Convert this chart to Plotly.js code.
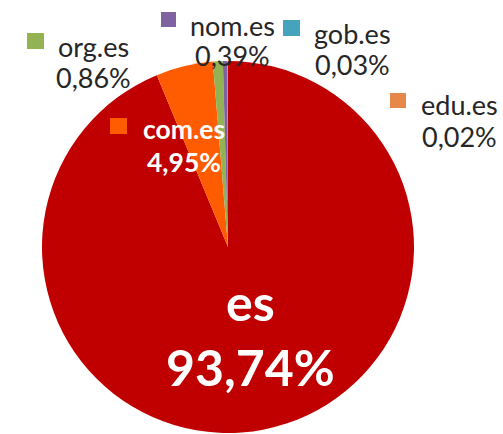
<!DOCTYPE html>
<html>
<head>
<meta charset="utf-8">
<script src="https://cdn.plot.ly/plotly-3.0.1.min.js"></script>
<style>
html,body{margin:0;padding:0;background:#fff;overflow:hidden;}
#chart{width:503px;height:434px;}
</style>
</head>
<body>
<div id="chart"></div>
<script>
// Data
const categories = ["es", "com.es", "org.es", "nom.es", "gob.es", "edu.es"];
const values = [93.74, 4.95, 0.86, 0.39, 0.03, 0.02];
const valueLabels = ["93,74%", "4,95%", "0,86%", "0,39%", "0,03%", "0,02%"];
const colors = ["#C00000", "#FF5B00", "#93B254", "#7F62A0", "#45A3BD", "#E5884A"];

// Layout geometry (pixels)
const W = 503, H = 434;
const M = {l: 42, r: 89, t: 61, b: 1};
const PW = W - M.l - M.r, PH = H - M.t - M.b;
const px = x => (x - M.l) / PW;
const py = y => 1 - (y - M.t) / PH;

// label placement: [index, centerX, line1Y, line2Y, square [x0,y0,x1,y1], textColor, bold, size]
const labelPos = [
  [0, 251, 301.5, 366.5, null, "#FFFFFF", true, 50],
  [1, 184, 129, 161.5, [110, 118, 127, 134], "#FFFFFF", true, 26.5],
  [2, 93.5, 46, 78, [27, 33, 44, 49], "#262626", false, 27],
  [3, 232, 25, 55, [161, 12, 176, 27], "#262626", false, 27],
  [4, 352.5, 33, 64, [283, 20, 300, 36], "#262626", false, 27],
  [5, 459.5, 104, 136, [390, 93, 406, 108], "#262626", false, 27]
];

const annotations = [];
const shapes = [];
labelPos.forEach(p => {
  const i = p[0];
  const lines = [categories[i], valueLabels[i]];
  [p[2], p[3]].forEach((yy, k) => {
    annotations.push({
      xref: "paper", yref: "paper", x: px(p[1]), y: py(yy),
      xanchor: "center", yanchor: "middle", align: "center",
      showarrow: false, text: p[6] ? "<b>" + lines[k] + "</b>" : lines[k],
      font: {family: "Lato, 'Liberation Sans', sans-serif", size: p[7], color: p[5]}
    });
  });
  if (p[4]) {
    shapes.push({
      type: "rect", xref: "paper", yref: "paper",
      x0: px(p[4][0]), x1: px(p[4][2]), y0: py(p[4][1]), y1: py(p[4][3]),
      fillcolor: colors[i], line: {width: 0}
    });
  }
});

const trace = {
  type: "pie",
  labels: categories,
  values: values,
  sort: false,
  direction: "clockwise",
  rotation: 0,
  textinfo: "none",
  hoverinfo: "none",
  marker: {colors: colors, line: {width: 0}},
  showlegend: false
};

const layout = {
  width: W, height: H,
  margin: M,
  paper_bgcolor: "#FFFFFF",
  plot_bgcolor: "#FFFFFF",
  showlegend: false,
  annotations: annotations,
  shapes: shapes
};

Plotly.newPlot("chart", [trace], layout, {displayModeBar: false, staticPlot: true});
</script>
</body>
</html>
